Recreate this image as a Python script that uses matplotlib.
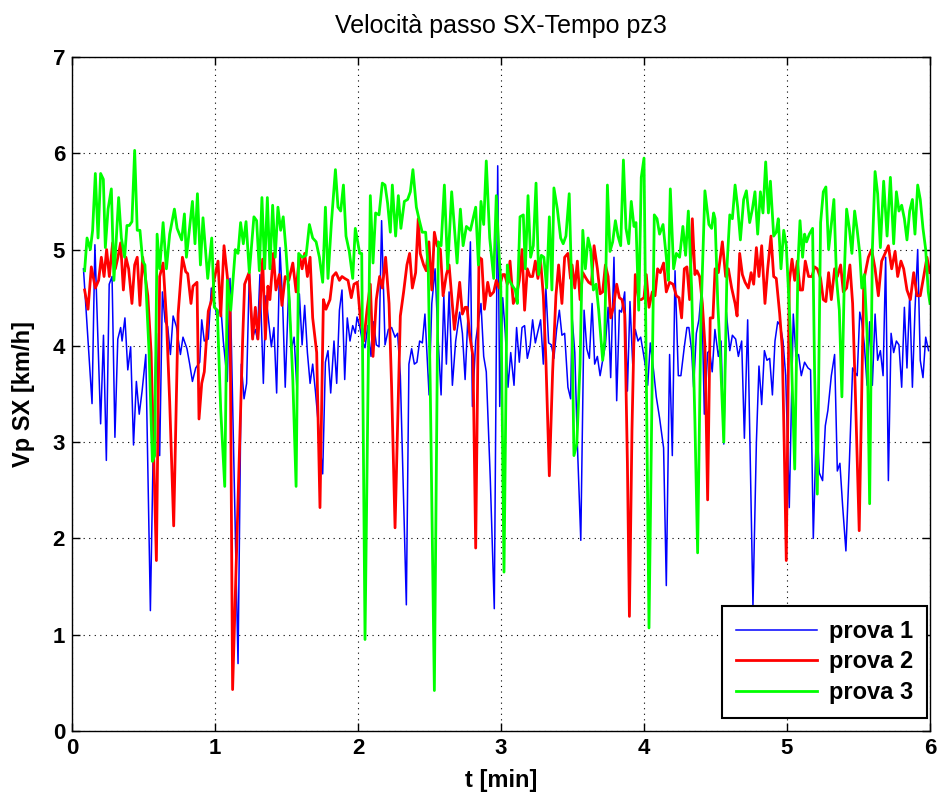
import numpy as np
import matplotlib
matplotlib.use("Agg")
import matplotlib.pyplot as plt

plt.rcParams['font.family'] = ['Liberation Sans', 'DejaVu Sans']

# prova 1 (blu)
t1 = [0.08, 0.14, 0.16, 0.20, 0.22, 0.24, 0.26, 0.28, 0.30, 0.32, 0.34, 0.35, 0.37, 0.39, 0.41, 0.43, 0.45, 0.47, 0.49,
      0.516, 0.548, 0.567, 0.59, 0.613, 0.632, 0.651, 0.669, 0.688, 0.707, 0.73, 0.758, 0.776, 0.804, 0.823, 0.842,
      0.865, 0.893, 0.907, 0.925, 0.953, 0.974, 0.995,
      1.016, 1.04, 1.058, 1.086, 1.105, 1.161, 1.184, 1.203, 1.221, 1.24, 1.263, 1.282, 1.296, 1.314, 1.338, 1.356,
      1.375, 1.394, 1.412, 1.431, 1.454, 1.473, 1.491,
      1.516, 1.534, 1.553, 1.572, 1.59, 1.609, 1.627, 1.646, 1.665, 1.683, 1.702, 1.73, 1.753, 1.772, 1.79, 1.809,
      1.832, 1.851, 1.87, 1.888, 1.907, 1.925, 1.944, 1.963, 1.981,
      1.993, 2.012, 2.03, 2.049, 2.068, 2.091, 2.109, 2.128, 2.147, 2.165, 2.189, 2.212, 2.235, 2.259, 2.277, 2.296,
      2.338, 2.356, 2.375, 2.394, 2.412, 2.431, 2.45, 2.468, 2.487,
      2.497, 2.516, 2.539, 2.558, 2.581, 2.6, 2.618, 2.637, 2.66, 2.683, 2.711, 2.73, 2.749, 2.767, 2.786, 2.80,
      2.823, 2.86, 2.879, 2.897, 2.925, 2.953, 2.977, 2.991,
      3.012, 3.03, 3.049, 3.068, 3.091, 3.109, 3.128, 3.147, 3.165, 3.184, 3.203, 3.221, 3.24, 3.258, 3.277, 3.296,
      3.314, 3.333, 3.352, 3.37, 3.389, 3.408, 3.426, 3.445, 3.468, 3.487,
      3.497, 3.516, 3.534, 3.558, 3.581, 3.60, 3.618, 3.637, 3.655, 3.674, 3.693, 3.711, 3.73, 3.749, 3.767, 3.79,
      3.809, 3.828, 3.842, 3.865, 3.884, 3.902, 3.921, 3.939, 3.958, 3.977, 3.995,
      4.012, 4.026, 4.044, 4.068, 4.086, 4.109, 4.137, 4.156, 4.179, 4.198, 4.217, 4.24, 4.258, 4.282, 4.30, 4.314,
      4.333, 4.347, 4.366, 4.384, 4.403, 4.422, 4.445, 4.459, 4.477, 4.496,
      4.52, 4.539, 4.558, 4.576, 4.60, 4.618, 4.641, 4.66, 4.683, 4.702, 4.725, 4.762, 4.786, 4.804, 4.823, 4.842,
      4.86, 4.879, 4.898, 4.916, 4.935, 4.953, 4.972, 4.991,
      5.016, 5.044, 5.063, 5.081, 5.10, 5.123, 5.147, 5.165, 5.184, 5.207, 5.226, 5.249, 5.268, 5.286, 5.31, 5.333,
      5.352, 5.37, 5.389, 5.412, 5.436, 5.459, 5.473, 5.491,
      5.509, 5.523, 5.541, 5.56, 5.578, 5.597, 5.616, 5.634, 5.653, 5.672, 5.69, 5.709, 5.728, 5.746, 5.765, 5.783,
      5.802, 5.821, 5.839, 5.858, 5.877, 5.895, 5.914, 5.932, 5.951, 5.97, 5.99]
v1 = [4.80, 3.40, 5.05, 3.19, 4.11, 2.81, 4.64, 4.72, 3.05, 4.07, 4.19, 4.05, 4.29, 3.75, 3.99, 2.97, 3.63, 3.29, 3.53,
      3.91, 1.25, 2.86, 4.13, 2.86, 4.56, 4.25, 4.20, 3.91, 4.31, 4.20, 3.91, 4.09, 3.97, 3.81, 3.63,
      3.77, 3.83, 4.27, 4.05, 4.07, 4.60, 4.44,
      4.29, 4.42, 4.05, 3.63, 4.70, 0.70, 3.81, 3.45, 3.61, 4.76, 4.09, 4.17, 4.07, 4.74, 3.61, 4.52,
      4.25, 3.99, 4.19, 3.51, 5.02, 4.44, 3.57,
      4.64, 3.97, 4.09, 3.57, 4.54, 4.01, 4.42, 3.93, 3.61, 3.81, 3.53, 3.06, 2.67, 3.83, 3.95, 3.51,
      4.05, 3.61, 4.37, 4.58, 3.65, 4.29, 4.05, 4.21, 4.13,
      4.30, 4.20, 4.05, 3.98, 4.21, 3.89, 4.25, 4.01, 3.99, 5.30, 4.01, 4.17, 4.19, 4.09, 4.13, 3.69,
      1.31, 3.81, 3.97, 3.81, 3.83, 4.05, 4.03, 4.33, 3.77,
      3.49, 4.44, 4.80, 4.13, 3.49, 4.52, 3.81, 4.56, 3.59, 4.05, 4.35, 4.13, 3.65, 4.25, 5.08, 3.37,
      4.05, 4.44, 3.89, 3.73, 2.62, 1.27, 5.87, 3.37,
      4.50, 4.13, 3.57, 3.93, 3.59, 4.19, 3.83, 4.19, 4.21, 3.87, 3.99, 4.27, 4.03, 4.15, 4.27, 3.81,
      4.60, 4.03, 4.01, 3.87, 4.17, 4.37, 4.11, 4.13, 3.57, 3.45,
      4.30, 3.93, 2.98, 1.98, 4.37, 3.97, 3.87, 4.44, 3.81, 3.89, 3.69, 3.85, 4.01, 4.40, 3.67, 4.92,
      3.43, 4.37, 4.35, 4.56, 3.53, 4.46, 3.81, 4.17, 4.05, 4.09, 3.93,
      3.77, 3.59, 4.03, 3.73, 3.47, 3.25, 2.94, 1.51, 3.91, 2.86, 4.78, 3.69, 3.69, 3.99, 4.19, 4.19,
      3.95, 3.57, 4.13, 4.27, 4.60, 3.29, 3.93, 3.95, 3.73, 4.17,
      3.89, 4.05, 2.98, 4.35, 3.95, 4.11, 4.07, 3.89, 4.05, 3.04, 4.27, 1.30, 3.00, 3.79, 3.39, 3.95,
      3.85, 3.87, 3.49, 4.05, 4.25, 4.21, 4.05, 3.69,
      2.32, 4.33, 3.89, 3.91, 3.69, 3.83, 3.77, 3.75, 2.00, 3.25, 2.68, 2.60, 3.17, 3.33, 3.69, 3.91,
      2.70, 2.78, 2.34, 1.87, 2.78, 3.77, 3.73, 3.69,
      4.35, 4.25, 4.01, 3.59, 4.25, 3.59, 4.33, 3.85, 3.95, 3.69, 4.92, 2.60, 4.13, 3.93, 4.05, 4.01,
      3.57, 4.40, 3.77, 4.52, 3.57, 4.37, 5.00, 3.85, 3.67, 4.09, 3.95]

# prova 2 (rosso)
t2 = [0.088, 0.112, 0.135, 0.163, 0.186, 0.205, 0.224, 0.242, 0.261, 0.284, 0.303, 0.321, 0.34, 0.359, 0.377, 0.396,
      0.419, 0.438, 0.456, 0.475, 0.494,
      0.53, 0.553, 0.59, 0.613, 0.637, 0.66, 0.683, 0.711, 0.742, 0.772, 0.795, 0.809, 0.832, 0.846, 0.874, 0.888,
      0.907, 0.925, 0.953, 0.977,
      0.993, 1.021, 1.04, 1.063, 1.086, 1.105, 1.123, 1.193, 1.207, 1.238, 1.263, 1.282, 1.30, 1.319, 1.333, 1.352,
      1.37, 1.384, 1.408, 1.426, 1.45, 1.468, 1.491,
      1.516, 1.544, 1.567, 1.59, 1.609, 1.627, 1.646, 1.665, 1.683, 1.711, 1.734, 1.758, 1.776, 1.804, 1.823, 1.846,
      1.87, 1.888, 1.907, 1.93, 1.953, 1.972, 1.995,
      2.016, 2.04, 2.063, 2.086, 2.105, 2.128, 2.151, 2.17, 2.193, 2.217, 2.235, 2.259, 2.296, 2.319, 2.342, 2.361,
      2.38, 2.403, 2.421, 2.435, 2.459, 2.477, 2.496,
      2.516, 2.534, 2.553, 2.576, 2.595, 2.618, 2.637, 2.655, 2.674, 2.693, 2.711, 2.73, 2.749, 2.763, 2.781, 2.804,
      2.823, 2.846, 2.865, 2.884, 2.907, 2.925, 2.949, 2.967, 2.986,
      3.012, 3.026, 3.044, 3.063, 3.086, 3.105, 3.128, 3.147, 3.165, 3.184, 3.203, 3.221, 3.24, 3.258, 3.277, 3.296,
      3.314, 3.338, 3.361, 3.384, 3.403, 3.426, 3.445, 3.468, 3.486,
      3.497, 3.516, 3.534, 3.553, 3.572, 3.595, 3.613, 3.632, 3.651, 3.674, 3.693, 3.711, 3.73, 3.749, 3.767, 3.786,
      3.809, 3.828, 3.846, 3.865, 3.884, 3.898, 3.916, 3.939, 3.963, 3.981, 4.0,
      4.016, 4.035, 4.058, 4.077, 4.095, 4.114, 4.137, 4.156, 4.179, 4.203, 4.226, 4.245, 4.263, 4.282, 4.30, 4.319,
      4.338, 4.356, 4.37, 4.389, 4.408, 4.426, 4.445, 4.463, 4.482,
      4.497, 4.52, 4.548, 4.571, 4.59, 4.613, 4.637, 4.651, 4.669, 4.688, 4.707, 4.73, 4.749, 4.767, 4.786, 4.804,
      4.823, 4.846, 4.865, 4.888, 4.907, 4.925, 4.949, 4.967, 4.981, 4.995,
      5.016, 5.035, 5.054, 5.072, 5.091, 5.109, 5.128, 5.151, 5.175, 5.193, 5.212, 5.235, 5.254, 5.272, 5.291, 5.31,
      5.333, 5.352, 5.375, 5.394, 5.417, 5.44, 5.459, 5.477,
      5.505, 5.537, 5.569, 5.592, 5.616, 5.639, 5.662, 5.686, 5.709, 5.732, 5.756, 5.774, 5.797, 5.816, 5.839, 5.863,
      5.886, 5.909, 5.932, 5.956, 5.979, 5.998]
v2 = [4.58, 4.38, 4.82, 4.60, 4.68, 4.92, 4.72, 5.00, 4.72, 5.07, 4.80, 4.92, 5.07, 4.58, 4.92, 4.80,
      4.44, 4.84, 4.92, 4.42, 4.92,
      4.52, 3.93, 1.77, 4.72, 4.86, 4.29, 3.42, 2.13, 4.33, 4.92, 4.77, 4.75, 4.44, 4.62, 4.66, 3.24,
      3.61, 3.73, 4.36, 4.48,
      4.68, 4.88, 4.31, 5.04, 4.72, 4.37, 0.43, 4.05, 4.64, 4.76, 4.07, 4.40, 4.07, 4.52, 4.90, 4.07,
      4.62, 4.48, 4.96, 4.58, 4.74, 4.42, 4.72,
      4.68, 4.86, 4.56, 4.94, 4.80, 4.96, 4.72, 4.92, 4.29, 3.93, 2.32, 4.48, 4.38, 4.48, 4.72, 4.76,
      4.68, 4.72, 4.70, 4.68, 4.50, 4.64, 4.66,
      4.29, 4.05, 4.37, 4.64, 3.89, 4.48, 4.72, 4.60, 4.92, 4.44, 3.57, 2.11, 4.31, 4.56, 4.84, 4.96,
      4.60, 4.76, 5.32, 4.96, 4.84, 4.78, 5.08,
      4.58, 5.18, 5.04, 5.00, 4.52, 4.74, 4.84, 4.52, 4.17, 4.40, 4.66, 4.33, 4.40, 4.40, 4.11, 3.89,
      1.90, 4.92, 4.90, 4.38, 4.66, 4.52, 4.56, 4.68, 4.60,
      4.74, 4.74, 4.64, 4.88, 4.44, 4.50, 4.68, 5.00, 4.37, 4.80, 4.72, 4.72, 4.88, 4.70, 4.88, 4.52,
      3.85, 2.65, 3.73, 4.52, 4.84, 4.44, 4.92, 4.96, 4.70,
      4.84, 4.60, 4.88, 4.48, 4.76, 4.70, 4.66, 4.64, 5.04, 4.80, 4.54, 4.56, 4.84, 4.72, 4.29, 4.40,
      4.64, 4.50, 4.48, 4.33, 2.78, 1.19, 3.13, 4.74, 4.48, 4.48, 4.50,
      4.74, 4.40, 4.56, 4.52, 4.80, 4.76, 4.86, 4.56, 4.66, 4.64, 4.52, 4.50, 4.29, 4.80, 4.82, 4.48,
      5.32, 4.74, 4.78, 4.72, 4.44, 4.01, 2.40, 4.29, 4.29,
      4.80, 4.76, 5.08, 4.72, 4.80, 4.60, 4.44, 4.31, 4.96, 4.74, 4.66, 4.60, 4.76, 4.64, 5.02, 4.72,
      5.04, 4.44, 4.80, 5.14, 4.72, 4.70, 4.33, 3.97, 2.94, 1.77,
      4.66, 4.90, 4.68, 4.88, 4.58, 4.58, 4.88, 4.72, 4.72, 4.82, 4.80, 4.70, 4.48, 4.46, 4.76, 4.48,
      4.80, 4.72, 4.84, 4.56, 4.60, 4.84, 4.44, 3.57,
      2.08, 4.68, 4.92, 5.00, 4.80, 4.52, 4.88, 4.96, 5.04, 4.80, 4.98, 4.72, 4.88, 4.80, 4.58, 4.48,
      4.76, 4.52, 4.52, 4.72, 4.92, 4.76]

# prova 3 (verde)
t3 = [0.088, 0.105, 0.128, 0.144, 0.163, 0.182, 0.20, 0.219, 0.233, 0.252, 0.275, 0.293, 0.307, 0.326, 0.345, 0.368,
      0.384, 0.401, 0.419, 0.438, 0.456, 0.475, 0.494,
      0.51, 0.539, 0.562, 0.578, 0.595, 0.613, 0.637, 0.66, 0.683, 0.716, 0.735, 0.767, 0.786, 0.80, 0.842, 0.86,
      0.877, 0.898, 0.916, 0.949, 0.977, 0.995,
      1.016, 1.04, 1.068, 1.086, 1.11, 1.142, 1.161, 1.179, 1.198, 1.217, 1.24, 1.272, 1.291, 1.31, 1.328, 1.347,
      1.366, 1.384, 1.403, 1.421, 1.44, 1.459, 1.477, 1.496,
      1.52, 1.544, 1.567, 1.585, 1.609, 1.637, 1.66, 1.683, 1.707, 1.73, 1.753, 1.772, 1.79, 1.814, 1.842, 1.86,
      1.879, 1.898, 1.916, 1.939, 1.963, 1.981,
      1.993, 2.012, 2.026, 2.049, 2.086, 2.105, 2.123, 2.147, 2.17, 2.189, 2.207, 2.226, 2.24, 2.263, 2.282, 2.30,
      2.324, 2.347, 2.366, 2.384, 2.408, 2.426, 2.449, 2.473, 2.491,
      2.505, 2.534, 2.562, 2.581, 2.604, 2.627, 2.655, 2.693, 2.716, 2.735, 2.758, 2.786, 2.823, 2.842, 2.86, 2.879,
      2.897, 2.921, 2.949, 2.967, 2.986,
      2.998, 3.021, 3.044, 3.058, 3.081, 3.10, 3.114, 3.133, 3.156, 3.17, 3.189, 3.207, 3.226, 3.245, 3.263, 3.282,
      3.30, 3.319, 3.338, 3.356, 3.37, 3.394, 3.417, 3.435, 3.454, 3.477, 3.491,
      3.51, 3.53, 3.553, 3.572, 3.59, 3.609, 3.627, 3.646, 3.665, 3.683, 3.711, 3.725, 3.744, 3.762, 3.781, 3.80,
      3.818, 3.837, 3.856, 3.874, 3.893, 3.911, 3.93, 3.944, 3.963, 3.981, 4.0,
      4.035, 4.072, 4.091, 4.109, 4.133, 4.156, 4.17, 4.184, 4.207, 4.226, 4.249, 4.272, 4.291, 4.31, 4.333, 4.356,
      4.375, 4.398, 4.426, 4.454, 4.473, 4.487,
      4.497, 4.516, 4.534, 4.558, 4.581, 4.60, 4.618, 4.637, 4.655, 4.674, 4.697, 4.716, 4.739, 4.758, 4.776, 4.795,
      4.814, 4.832, 4.851, 4.87, 4.884, 4.907, 4.925, 4.939, 4.958, 4.977, 4.995,
      5.012, 5.03, 5.054, 5.077, 5.091, 5.109, 5.123, 5.137, 5.156, 5.179, 5.193, 5.212, 5.235, 5.254, 5.272, 5.291,
      5.31, 5.328, 5.347, 5.366, 5.384, 5.403, 5.417, 5.436, 5.454, 5.473, 5.491,
      5.509, 5.523, 5.541, 5.56, 5.578, 5.597, 5.616, 5.634, 5.653, 5.676, 5.70, 5.723, 5.746, 5.765, 5.783, 5.802,
      5.821, 5.839, 5.858, 5.877, 5.895, 5.914, 5.932, 5.951, 5.97, 5.988, 6.0]
v3 = [4.78, 5.12, 5.00, 5.20, 5.79, 5.12, 5.79, 5.73, 5.02, 5.42, 5.63, 4.68, 5.04, 5.54, 5.12, 4.92,
      5.25, 5.25, 5.29, 6.03, 5.20, 5.20, 4.88,
      4.84, 3.93, 2.80, 2.86, 5.16, 4.80, 5.28, 4.80, 5.16, 5.42, 5.22, 5.10, 5.37, 4.92, 5.50, 5.06,
      5.58, 4.84, 5.33, 4.70, 5.12, 4.40,
      4.37, 3.33, 2.54, 4.68, 4.37, 5.00, 4.96, 5.28, 5.06, 5.29, 4.76, 5.34, 5.30, 4.78, 5.54, 4.80,
      5.54, 4.80, 5.46, 4.92, 5.44, 5.20, 5.34, 5.00,
      4.46, 3.65, 2.54, 4.96, 4.92, 4.94, 5.26, 5.12, 5.08, 4.92, 4.66, 5.44, 4.70, 5.28, 5.83, 5.44,
      5.40, 5.67, 5.14, 4.98, 4.70, 5.22,
      5.12, 4.96, 4.96, 0.95, 5.56, 4.86, 5.38, 5.36, 5.69, 5.67, 5.48, 5.18, 5.67, 5.14, 5.56, 5.22,
      5.50, 5.52, 5.60, 5.83, 5.44, 5.32, 5.18, 5.18, 4.80,
      3.60, 0.42, 5.08, 5.04, 5.67, 4.80, 5.60, 4.86, 5.42, 5.04, 5.24, 5.20, 5.44, 4.84, 5.50, 5.26,
      5.92, 5.12, 4.70, 5.56, 4.96,
      4.68, 1.65, 4.84, 4.68, 4.62, 4.58, 4.44, 5.34, 5.36, 4.80, 5.56, 4.92, 5.04, 5.69, 4.74, 4.94,
      4.92, 4.60, 5.34, 4.58, 5.64, 5.42, 5.12, 5.06, 5.14, 5.58, 4.80,
      2.86, 2.98, 3.81, 5.20, 4.80, 5.12, 5.00, 4.58, 4.64, 4.37, 3.85, 4.05, 5.67, 4.98, 5.08, 5.30,
      5.14, 5.04, 5.93, 5.22, 5.06, 5.50, 5.24, 5.28, 4.37, 5.75, 5.95,
      1.07, 5.36, 5.32, 5.16, 5.26, 4.92, 4.68, 5.63, 4.80, 4.96, 4.92, 5.24, 4.94, 5.40, 4.60, 3.22,
      1.85, 4.29, 5.61, 5.26, 5.22, 5.38,
      5.32, 4.44, 3.89, 3.00, 4.84, 5.36, 5.32, 5.67, 5.44, 5.10, 5.52, 5.61, 5.28, 5.42, 5.60, 5.16,
      5.60, 5.38, 5.91, 5.38, 5.71, 5.14, 5.18, 5.32, 4.80, 5.20, 5.04,
      4.52, 3.93, 2.72, 4.86, 5.30, 4.92, 5.16, 5.08, 5.16, 5.22, 3.73, 2.46, 5.28, 5.60, 5.65, 5.00,
      5.26, 5.52, 4.68, 4.37, 3.47, 4.84, 5.42, 5.22, 4.96, 5.40, 5.20,
      4.96, 4.60, 4.74, 4.13, 2.36, 5.00, 5.81, 5.58, 5.02, 5.71, 5.14, 5.75, 5.06, 5.60, 5.40, 5.46,
      5.32, 5.10, 5.40, 5.52, 5.16, 5.67, 5.52, 5.22, 5.00, 4.56, 4.44]

fig = plt.figure(figsize=(9.39, 7.98), dpi=100)
ax = fig.add_axes([0.0767, 0.084, 0.9137, 0.8446])

ax.plot(t1, v1, color='#0000ff', lw=1.1, label='prova 1')
ax.plot(t2, v2, color='#ff0000', lw=2.0, label='prova 2')
ax.plot(t3, v3, color='#00ff00', lw=2.0, label='prova 3')

ax.set_xlim(0, 6)
ax.set_ylim(0, 7)
ax.set_xticks(np.arange(0, 7, 1))
ax.set_yticks(np.arange(0, 8, 1))
ax.grid(True, color='black', linestyle=(0, (1, 4)), linewidth=0.8)
ax.tick_params(direction='in', length=6, width=1, top=True, right=True, labelsize=16, pad=5)
for lab in ax.get_xticklabels() + ax.get_yticklabels():
    lab.set_fontweight('bold')
for s in ax.spines.values():
    s.set_linewidth(1.0)

ax.set_title('Velocità passo SX-Tempo pz3', fontsize=18, pad=17)
ax.set_xlabel('t [min]', fontsize=17, fontweight='bold', labelpad=7)
ax.set_ylabel('Vp SX [km/h]', fontsize=17, fontweight='bold', labelpad=13)

leg = ax.legend(loc='lower right', bbox_to_anchor=(0.9965, 0.019), borderaxespad=0,
                prop={'weight': 'bold', 'size': 17},
                fancybox=False, framealpha=1, edgecolor='black', handlelength=3.4,
                borderpad=0.6, labelspacing=0.32, handletextpad=0.5)
leg.get_frame().set_linewidth(1.5)

fig.savefig('out.png', dpi=100)
